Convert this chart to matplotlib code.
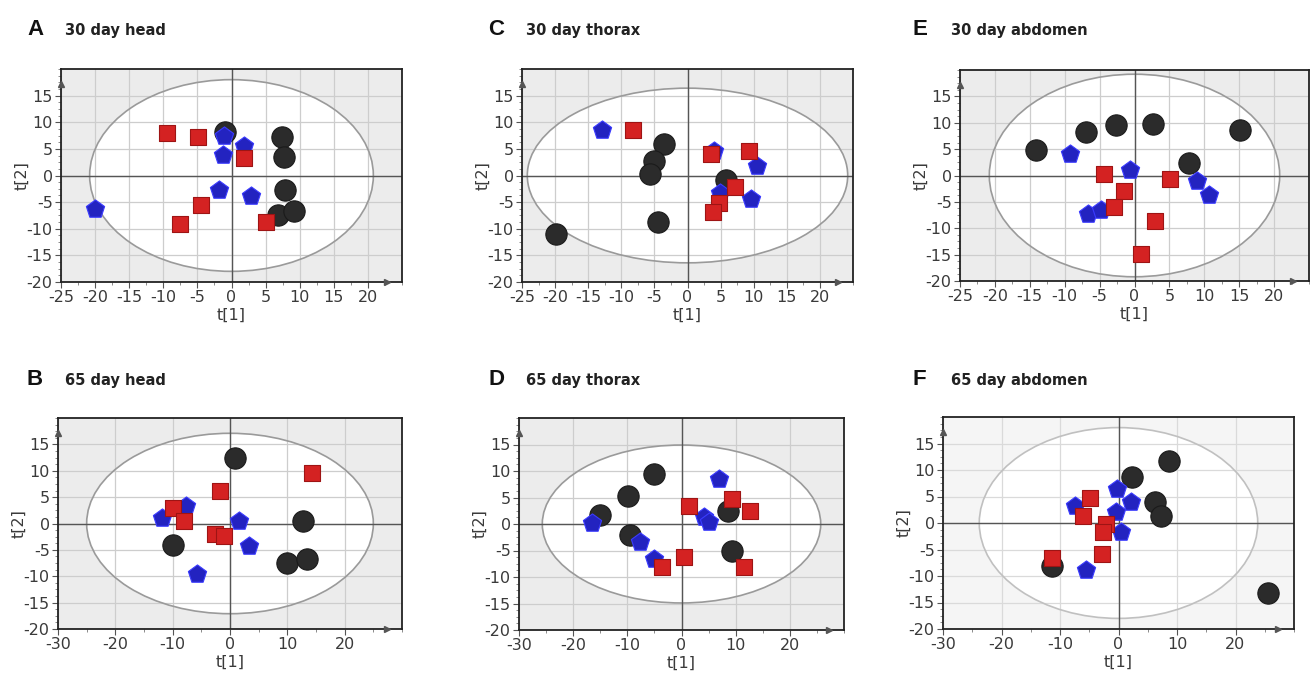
import matplotlib
matplotlib.use('Agg')
import matplotlib.pyplot as plt
from matplotlib.patches import Ellipse
from matplotlib.ticker import MultipleLocator

plt.rcParams['font.family'] = ['DejaVu Sans']
plt.rcParams['axes.unicode_minus'] = False

# ---- scores (t[1], t[2]) ----
# A: 30 day head
head30_black = [(-1.0, 8.1), (7.45, 7.25), (7.7, 3.5), (7.9, -2.65), (6.8, -7.4), (9.1, -6.7)]
head30_red = [(-9.4, 7.9), (-4.9, 7.2), (1.9, 3.3), (-4.4, -5.5), (-7.6, -9.1), (5.1, -8.8)]
head30_blue = [(-20.0, -6.2), (-1.1, 7.5), (-1.2, 3.9), (1.9, 5.5), (-1.8, -2.8), (2.9, -3.9)]
# C: 30 day thorax
thorax30_black = [(-3.6, 6.0), (-5.0, 2.7), (-5.6, 0.2), (-4.4, -8.75), (-19.9, -11.0), (5.85, -0.9)]
thorax30_red = [(-8.2, 8.6), (3.5, 4.0), (9.25, 4.6), (7.1, -2.15), (4.75, -5.2), (3.85, -6.9)]
thorax30_blue = [(-12.9, 8.5), (4.0, 4.6), (10.55, 1.75), (4.85, -3.3), (9.55, -4.35)]
# E: 30 day abdomen
abdomen30_black = [(-14.1, 4.8), (-6.9, 8.3), (-2.6, 9.5), (2.7, 9.7), (15.1, 8.65), (7.8, 2.4)]
abdomen30_red = [(-4.4, 0.3), (5.1, -0.75), (-1.5, -3.0), (-2.9, -6.05), (3.0, -8.7), (1.0, -14.9)]
abdomen30_blue = [(-9.3, 4.0), (-0.7, 1.0), (-6.7, -7.3), (-4.8, -6.6), (8.9, -0.95), (10.7, -3.75)]
# B: 65 day head
head65_black = [(0.9, 12.4), (12.8, 0.45), (-9.9, -4.1), (9.9, -7.4), (13.35, -6.75)]
head65_red = [(14.35, 9.5), (-1.7, 6.1), (-9.9, 2.9), (-8.1, 0.45), (-2.55, -1.9), (-1.1, -2.4)]
head65_blue = [(-11.9, 0.95), (-7.65, 3.3), (1.5, 0.45), (3.3, -4.25), (-5.7, -9.5)]
# D: 65 day thorax
thorax65_black = [(-5.06, 9.45), (-9.8, 5.2), (-15.05, 1.7), (-9.5, -2.1), (8.5, 2.5), (9.3, -5.05)]
thorax65_red = [(1.3, 3.35), (9.3, 4.7), (12.6, 2.4), (0.55, -6.2), (-3.65, -8.2), (11.5, -8.05)]
thorax65_blue = [(-16.6, 0.2), (6.85, 8.5), (4.1, 1.4), (5.0, 0.3), (-7.65, -3.45), (-5.06, -6.6)]
# F: 65 day abdomen
abdomen65_black = [(2.3, 8.7), (8.6, 11.65), (6.3, 4.0), (7.2, 1.25), (-11.3, -8.05), (25.5, -13.2)]
abdomen65_red = [(-4.95, 4.7), (-6.1, 1.25), (-2.1, -0.2), (-2.7, -1.7), (-2.8, -5.85), (-11.3, -6.6)]
abdomen65_blue = [(-7.5, 3.3), (-0.2, 6.4), (2.2, 4.0), (-0.4, 2.1), (0.45, -1.7), (-5.5, -8.8)]

panel_letters = ['A', 'C', 'E', 'B', 'D', 'F']
panel_titles = ['30 day head', '30 day thorax', '30 day abdomen',
                '65 day head', '65 day thorax', '65 day abdomen']
# Hotelling T2 ellipse half axes (t[1], t[2])
ellipse_axes = [(20.8, 18.0), (24.2, 16.4), (20.8, 19.2),
                (25.0, 17.1), (25.7, 14.9), (23.8, 18.0)]
x_limits = [(-25, 25), (-25, 25), (-25, 25), (-30, 30), (-30, 30), (-30, 30)]

groups = [(head30_black, head30_red, head30_blue),
          (thorax30_black, thorax30_red, thorax30_blue),
          (abdomen30_black, abdomen30_red, abdomen30_blue),
          (head65_black, head65_red, head65_blue),
          (thorax65_black, thorax65_red, thorax65_blue),
          (abdomen65_black, abdomen65_red, abdomen65_blue)]

W, H = 1312, 679
fig = plt.figure(figsize=(W / 100, H / 100), dpi=100)

# axes frames in pixels: left, top, right, bottom
frames = [(61, 69, 402, 282), (522, 69, 853, 282), (960, 70, 1309, 281),
          (58, 418, 402, 629), (519, 418, 844, 630), (943, 417, 1294, 629)]
label_pos = [(27, 35), (488, 35), (913, 35), (27, 385), (488, 385), (913, 385)]

for i in range(6):
    l, t, r, b = frames[i]
    ax = fig.add_axes([l / W, 1 - b / H, (r - l) / W, (b - t) / H])
    light = (i == 5)
    ax.set_facecolor('#f5f5f5' if light else '#ececec')
    ax.set_axisbelow(True)

    xmin, xmax = x_limits[i]
    ax.set_xlim(xmin, xmax)
    ax.set_ylim(-20, 20)
    step = 5 if xmax == 25 else 10
    ax.set_xticks(list(range(xmin, xmax, step)))
    ax.set_yticks(list(range(-20, 20, 5)))
    ax.xaxis.set_minor_locator(MultipleLocator(step / 2))
    ax.yaxis.set_minor_locator(MultipleLocator(1.25))
    ax.grid(True, which='major', color='#dadada' if light else '#cdcdcd', lw=0.9)

    # ellipse: white fill under the grid, grey outline above
    ea, eb = ellipse_axes[i]
    ax.add_patch(Ellipse((0, 0), 2 * ea, 2 * eb, facecolor='white', edgecolor='none', zorder=0.3))
    ax.add_patch(Ellipse((0, 0), 2 * ea, 2 * eb, facecolor='none',
                         edgecolor='#c0c0c0' if light else '#9a9a9a', lw=1.2, zorder=1.5))
    ax.axhline(0, color='#555555', lw=1.0, zorder=1.6)
    ax.axvline(0, color='#555555', lw=1.0, zorder=1.6)

    black, red, blue = groups[i]
    ax.scatter([p[0] for p in black], [p[1] for p in black], s=235, marker='o',
               facecolor='#2b2b2b', edgecolor='#1a1a1a', lw=0.8, zorder=3)
    ax.scatter([p[0] for p in blue], [p[1] for p in blue], s=190, marker='p',
               facecolor='#2323c0', edgecolor='#3b3bff', lw=0.8, zorder=4)
    ax.scatter([p[0] for p in red], [p[1] for p in red], s=140, marker='s',
               facecolor='#d42222', edgecolor='#9e1414', lw=0.8, zorder=5)

    for side in ['left', 'right', 'top', 'bottom']:
        ax.spines[side].set_color('#222222')
        ax.spines[side].set_linewidth(1.3)
    ax.tick_params(which='major', direction='out', length=4, width=0.8, color='#555555',
                   labelsize=11.5, labelcolor='#3a3a3a', pad=2)
    ax.tick_params(which='minor', direction='out', length=2.5, width=0.6, color='#777777')
    ax.set_xlabel('t[1]', fontsize=11.5, color='#3a3a3a', labelpad=2)
    ax.set_ylabel('t[2]', fontsize=11.5, color='#3a3a3a', labelpad=-2)

    # small arrow heads on the axes
    ax.plot(0, 0.93, marker='^', ms=5, color='#555555', transform=ax.transAxes, clip_on=False, zorder=6)
    ax.plot(0.955, 0, marker='>', ms=5, color='#555555', transform=ax.transAxes, clip_on=False, zorder=6)

    lx, ly = label_pos[i]
    fig.text(lx / W, 1 - ly / H, panel_letters[i], fontsize=16, fontweight='bold',
             family='Liberation Sans', color='#111111')
    fig.text((lx + 38) / W, 1 - ly / H, panel_titles[i], fontsize=10.5, fontweight='bold',
             color='#222222')

fig.savefig('out.png', dpi=100)
